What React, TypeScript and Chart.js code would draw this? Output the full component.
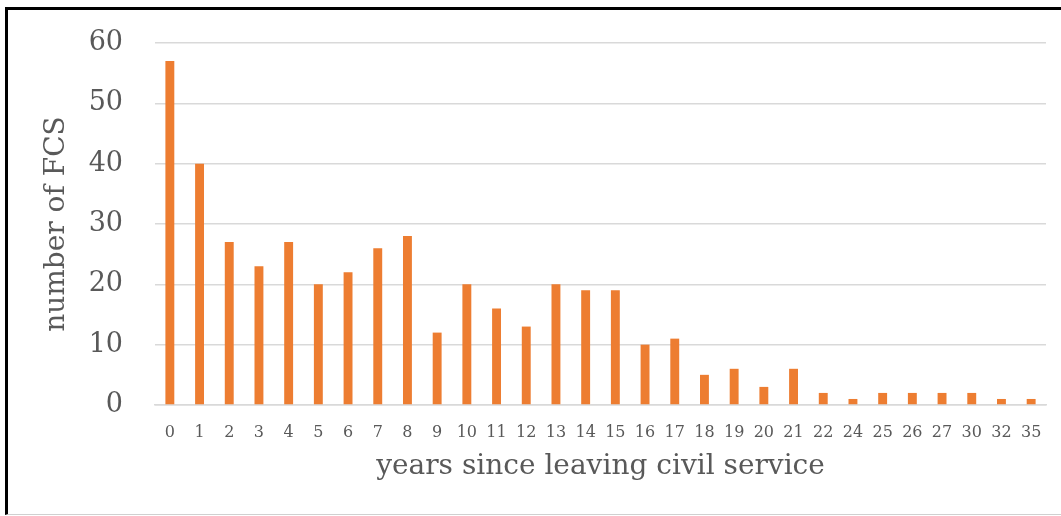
import React, { useEffect, useRef } from "react";
import { Chart, registerables } from "chart.js";

Chart.register(...registerables);

// Years since leaving civil service (category labels)
const years: string[] = [
  "0", "1", "2", "3", "4", "5", "6", "7", "8", "9", "10", "11", "12", "13", "14",
  "15", "16", "17", "18", "19", "20", "21", "22", "24", "25", "26", "27", "30", "32", "35",
];

// Number of FCS per year
const counts: number[] = [
  57, 40, 27, 23, 27, 20, 22, 26, 28, 12, 20, 16, 13, 20, 19,
  19, 10, 11, 5, 6, 3, 6, 2, 1, 2, 2, 2, 2, 1, 1,
];

const yTicks: number[] = [0, 10, 20, 30, 40, 50, 60];

const xTitle = "years since leaving civil service";
const yTitle = "number of FCS";

const TEXT = "#595959";
const GRID = "#d9d9d9";
const BAR = "#ED7D31";
const SERIF = '"DejaVu Serif", serif';

const axisTitles = {
  id: "axisTitles",
  afterDraw(chart: Chart) {
    const { ctx, chartArea } = chart;
    ctx.save();
    ctx.fillStyle = TEXT;
    ctx.font = `28px ${SERIF}`;
    ctx.textAlign = "center";
    ctx.textBaseline = "middle";
    ctx.fillText(xTitle, (chartArea.left + chartArea.right) / 2, chartArea.bottom + 62);
    ctx.translate(57, (chartArea.top + chartArea.bottom) / 2);
    ctx.rotate(-Math.PI / 2);
    ctx.fillText(yTitle, 0, 0);
    ctx.restore();
  },
};

export default function App() {
  const canvasRef = useRef<HTMLCanvasElement | null>(null);

  useEffect(() => {
    if (!canvasRef.current) return;
    const chart = new Chart(canvasRef.current, {
      type: "bar",
      data: {
        labels: years,
        datasets: [
          {
            data: counts,
            backgroundColor: BAR,
            borderWidth: 0,
            categoryPercentage: 1,
            barPercentage: 0.3,
          },
        ],
      },
      options: {
        responsive: false,
        animation: false,
        layout: { padding: { top: 43, right: 15, bottom: 0, left: 0 } },
        plugins: {
          legend: { display: false },
          tooltip: { enabled: false },
          title: { display: false },
        },
        scales: {
          x: {
            grid: { display: false, drawTicks: false },
            border: { display: true, color: GRID, width: 1.5 },
            ticks: {
              color: TEXT,
              font: { family: SERIF, size: 16 },
              padding: 18,
              maxRotation: 0,
              autoSkip: false,
            },
            afterFit: (scale: any) => {
              scale.height = 111;
            },
          },
          y: {
            min: 0,
            max: 60,
            afterBuildTicks: (scale: any) => {
              scale.ticks = yTicks.map((v) => ({ value: v }));
            },
            grid: {
              color: GRID,
              lineWidth: 1.5,
              drawTicks: true,
              tickLength: 28,
              tickColor: "rgba(0,0,0,0)",
            },
            border: { display: false },
            ticks: {
              color: TEXT,
              font: { family: SERIF, size: 27 },
              padding: 4,
            },
            afterFit: (scale: any) => {
              scale.width = 155;
            },
          },
        },
      },
      plugins: [axisTitles],
    });
    return () => chart.destroy();
  }, []);

  return (
    <div
      style={{
        position: "fixed",
        left: 0,
        top: 0,
        width: 1061,
        height: 516,
        background: "#fff",
        overflow: "hidden",
      }}
    >
      <div
        style={{
          position: "absolute",
          left: 5,
          top: 7,
          width: 1100,
          height: 504,
          borderTop: "3px solid #000",
          borderLeft: "3px solid #000",
          borderBottom: "1px solid #d0d0d0",
        }}
      />
      <canvas
        ref={canvasRef}
        width={1061}
        height={516}
        style={{ position: "absolute", left: 0, top: 0, width: 1061, height: 516 }}
      />
    </div>
  );
}
